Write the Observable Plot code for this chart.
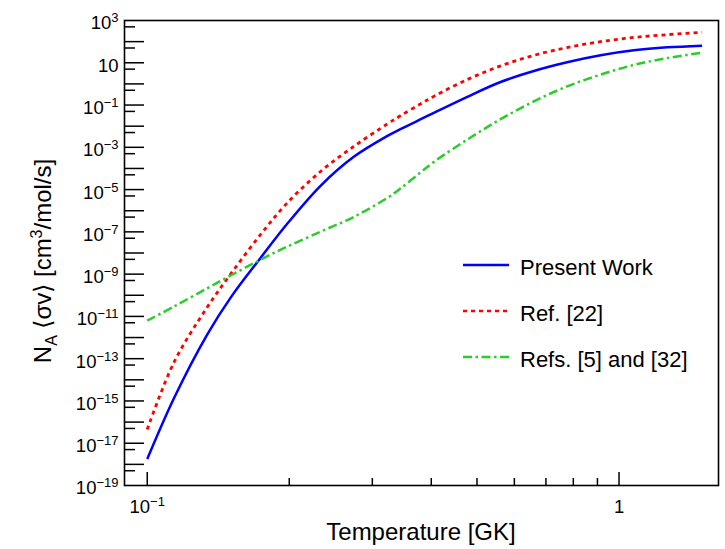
<!DOCTYPE html>
<html><head><meta charset="utf-8">
<script src="https://cdn.jsdelivr.net/npm/d3@7"></script>
<script src="https://cdn.jsdelivr.net/npm/@observablehq/plot@0.6"></script>
<style>
body{margin:0;background:#fff}
#chart{width:725px;height:549px}
</style>
</head><body><div id="chart"></div>
<script>
// Temperature grid [GK]
const temperature = [0.100, 0.114, 0.134, 0.151, 0.174, 0.198, 0.233, 0.274, 0.323, 0.344, 0.380, 0.405, 0.477, 0.561, 0.660, 0.776, 0.914, 1.075, 1.265, 1.50];
// Reaction rates N_A<sigma v> [cm^3/mol/s]
const presentWork = [1.78e-18, 1.38e-15, 1.38e-12, 9.1e-11, 6.0e-9, 2.4e-7, 1.51e-5, 3.55e-4, 3.47e-3, 7.2e-3, 2.14e-2, 4.27e-2, 0.245, 1.23, 4.07, 10.5, 22.6, 38.9, 53.7, 64.6];
const ref22 = [4.47e-17, 6.9e-14, 2.7e-11, 1.17e-9, 7.6e-8, 2.34e-6, 7.2e-5, 1.1e-3, 1.29e-2, 3.1e-2, 0.115, 0.257, 1.62, 7.1, 22.4, 52.5, 100, 158, 214, 275];
const refs5and32 = [6.3e-12, 2.95e-11, 2.14e-10, 9.1e-10, 4.9e-9, 2.0e-8, 1.02e-7, 5.1e-7, 4.1e-6, 1.12e-5, 6.6e-5, 2.04e-4, 2.34e-3, 2.14e-2, 0.148, 0.76, 2.75, 7.9, 16.6, 30];

const seriesNames = ["Present Work", "Ref. [22]", "Refs. [5] and [32]"];
const seriesValues = [presentWork, ref22, refs5and32];
const seriesColors = ["#0000ff", "#ff0000", "#2ccc2c"];
const seriesDash = [null, "4,4", "9,3.5,2.5,3.5"];

// Axis ticks
const yLabelTicks = [1e3, 1e1, 1e-1, 1e-3, 1e-5, 1e-7, 1e-9, 1e-11, 1e-13, 1e-15, 1e-17, 1e-19];
const yMajorTicks = [1e2, 1e1, 1e0, 1e-1, 1e-2, 1e-3, 1e-4, 1e-5, 1e-6, 1e-7, 1e-8, 1e-9, 1e-10, 1e-11, 1e-12, 1e-13, 1e-14, 1e-15, 1e-16, 1e-17, 1e-18];
const yMinorTicks = [5e2, 5e1, 5e0, 5e-1, 5e-2, 5e-3, 5e-4, 5e-5, 5e-6, 5e-7, 5e-8, 5e-9, 5e-10, 5e-11, 5e-12, 5e-13, 5e-14, 5e-15, 5e-16, 5e-17, 5e-18, 5e-19];
const xMajorTicks = [0.1, 1];
const xMinorTicks = [0.2, 0.3, 0.4, 0.5, 0.6, 0.7, 0.8, 0.9];

const rows = seriesNames.flatMap((name, i) =>
  temperature.map((t, j) => ({T: t, rate: seriesValues[i][j], series: name})));

const W = 725, H = 549, mL = 124, mR = 7, mT = 20, mB = 64;
const plotW = W - mL - mR, plotH = H - mT - mB;
const font = "'Liberation Sans', Arial, Helvetica, sans-serif";

function expFormat(d) {
  const e = Math.round(Math.log10(d));
  if (e === 0) return "1";
  if (e === 1) return "10";
  return "10^" + e;
}

const lineMarks = seriesNames.map((name, i) =>
  Plot.line(rows.filter(r => r.series === name), {
    x: "T", y: "rate", stroke: seriesColors[i], strokeWidth: i === 1 ? 2.8 : 2.5,
    strokeDasharray: seriesDash[i], strokeLinecap: "butt", curve: "catmull-rom"
  }));

const svg = Plot.plot({
  width: W, height: H,
  marginLeft: mL, marginRight: mR, marginTop: mT, marginBottom: mB,
  style: {fontFamily: font, background: "white", color: "#000"},
  x: {type: "log", domain: [0.0895, 1.625], label: null},
  y: {type: "log", domain: [1e-19, 1e3], label: null},
  marks: [
    Plot.tickY(yMajorTicks, {y: d => d, stroke: "#000", strokeWidth: 1.5, insetRight: plotW - 20}),
    Plot.tickY(yMinorTicks, {y: d => d, stroke: "#000", strokeWidth: 1.5, insetRight: plotW - 11}),
    Plot.tickX(xMajorTicks, {x: d => d, stroke: "#000", strokeWidth: 1.5, insetTop: plotH - 13}),
    Plot.tickX(xMinorTicks, {x: d => d, stroke: "#000", strokeWidth: 1.5, insetTop: plotH - 7}),
    ...lineMarks,
    Plot.frame({stroke: "#000", strokeWidth: 1.6}),
    Plot.axisY({ticks: yLabelTicks, tickSize: 0, tickPadding: 6, dy: 3, fontSize: 18.5, tickFormat: expFormat, label: null}),
    Plot.axisX({ticks: xMajorTicks, tickSize: 0, tickPadding: 14, fontSize: 18.5, tickFormat: expFormat, label: null})
  ]
});

// Superscripts on tick labels
const NS = "http://www.w3.org/2000/svg";
svg.querySelectorAll('g[aria-label="y-axis tick label"] text, g[aria-label="x-axis tick label"] text').forEach(t => {
  const s = t.textContent;
  if (!s.includes("^")) return;
  const [base, exp] = s.split("^");
  t.textContent = "";
  const a = document.createElementNS(NS, "tspan"); a.textContent = base;
  const b = document.createElementNS(NS, "tspan");
  b.textContent = exp.replace("-", "\u2212");
  b.setAttribute("dy", "-7"); b.setAttribute("font-size", "13");
  t.appendChild(a); t.appendChild(b);
});

const root = d3.select(svg);
// X-axis title
root.append("text").attr("x", mL + plotW / 2).attr("y", 540)
  .attr("text-anchor", "middle").attr("font-size", 24).attr("font-family", font).attr("fill", "#000")
  .text("Temperature [GK]");
// Y-axis title
const yt = root.append("text").attr("transform", "translate(51,261) rotate(-90)")
  .attr("text-anchor", "middle").attr("font-size", 24).attr("font-family", font).attr("fill", "#000");
yt.append("tspan").text("N");
yt.append("tspan").attr("font-size", 16).attr("dy", 6).text("A");
yt.append("tspan").attr("dy", -6).text(" \u27E8\u03C3v\u27E9 [cm");
yt.append("tspan").attr("font-size", 16).attr("dy", -9).text("3");
yt.append("tspan").attr("dy", 9).text("/mol/s]");

// Legend
const lg = root.append("g");
seriesNames.forEach((name, i) => {
  const y = 265 + i * 46;
  lg.append("line").attr("x1", 463).attr("x2", 509).attr("y1", y).attr("y2", y)
    .attr("stroke", seriesColors[i]).attr("stroke-width", 2.6)
    .attr("stroke-dasharray", seriesDash[i]);
  lg.append("text").attr("x", 520).attr("y", y + 9.5).attr("font-size", 22)
    .attr("text-anchor", "start")
    .attr("font-family", font).attr("fill", "#000").text(name);
});

document.getElementById("chart").appendChild(svg);
</script>
</body></html>
